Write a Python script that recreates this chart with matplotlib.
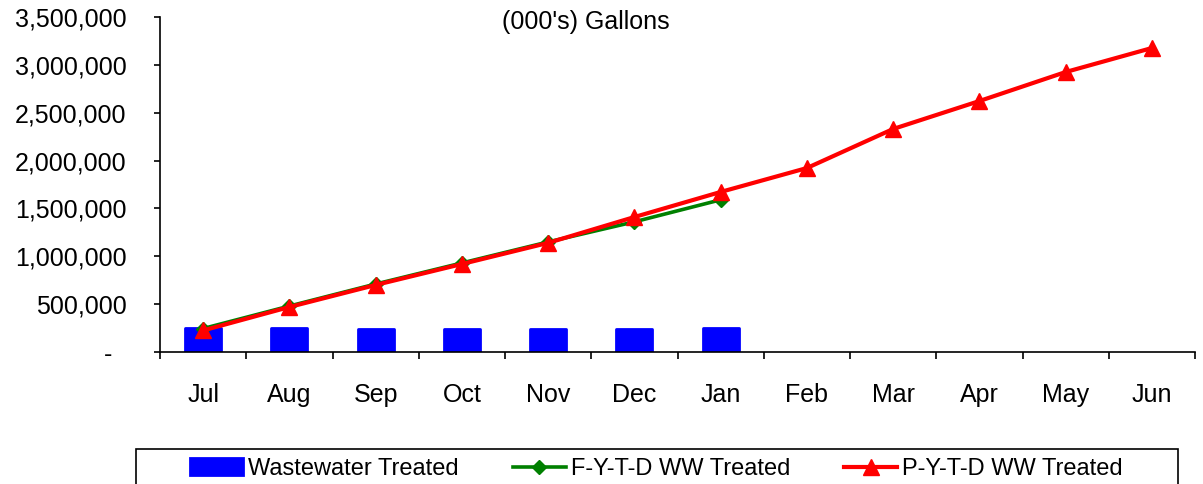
import matplotlib
matplotlib.use("Agg")
from matplotlib import pyplot as plt
from matplotlib.patches import Rectangle
from matplotlib.ticker import FuncFormatter

plt.rcParams['font.family'] = ['Liberation Sans', 'DejaVu Sans']

# data, (000's) gallons
months = ['Jul', 'Aug', 'Sep', 'Oct', 'Nov', 'Dec', 'Jan', 'Feb', 'Mar', 'Apr', 'May', 'Jun']
ww_treated = [255000, 255000, 237000, 237000, 237000, 237000, 255000]
fytd_treated = [245000, 480000, 710000, 930000, 1150000, 1360000, 1590000]
pytd_treated = [225000, 470000, 700000, 919000, 1140000, 1410000, 1672000,
                1922000, 2330000, 2622000, 2925000, 3176000]

fig = plt.figure(figsize=(12.03, 4.84), dpi=100)
ax = fig.add_axes([160 / 1203, 1 - 352 / 484, 1035 / 1203, 335 / 484])

x_ww = list(range(len(ww_treated)))
x_f = list(range(len(fytd_treated)))
x_p = list(range(len(pytd_treated)))

# bars (slightly rounded, like the original)
bars = ax.bar(x_ww, ww_treated, width=0.42, color='#0000ff', edgecolor='#0000ff',
              linewidth=2, joinstyle='round', label='Wastewater Treated', zorder=2)
l_f, = ax.plot(x_f, fytd_treated, color='#008000', lw=2.6, marker='D', markersize=7,
               label='F-Y-T-D WW Treated', zorder=3)
l_p, = ax.plot(x_p, pytd_treated, color='#ff0000', lw=3, marker='^', markersize=11,
               label='P-Y-T-D WW Treated', zorder=4)

ax.set_xlim(-0.5, 11.5)
ax.set_ylim(0, 3500000)
ax.set_yticks(range(0, 3500001, 500000))
ax.yaxis.set_major_formatter(FuncFormatter(lambda v, p: '-  ' if v == 0 else f'{int(v):,}'))
ax.set_xticks(x_p)
ax.set_xticklabels(months)
ax.set_xticks([i - 0.5 for i in range(13)], minor=True)

ax.tick_params(axis='x', which='major', length=0, pad=22, labelsize=18)
ax.tick_params(axis='x', which='minor', length=5, width=1.2, direction='out')
ax.tick_params(axis='y', length=4, width=1.2, pad=20, labelsize=18)

ax.spines['top'].set_visible(False)
ax.spines['right'].set_visible(False)
ax.spines['left'].set_linewidth(1.2)
ax.spines['bottom'].set_linewidth(1.2)

ax.text(0.4116, 0.985, "(000's) Gallons", transform=ax.transAxes, ha='center',
        va='center', fontsize=18)

# legend box runs past the bottom edge of the picture
fig.patches.append(Rectangle((136 / 1203, -0.05), 1042 / 1203, 1 - 449 / 484 + 0.05,
                             transform=fig.transFigure, fill=False,
                             edgecolor='black', linewidth=1.2))
fig.legend(handles=[bars, l_f, l_p], loc='center left', ncol=3,
           bbox_to_anchor=(190 / 1203, 1 - 469 / 484),
           frameon=False, fontsize=17, handlelength=2.25, handletextpad=0.2,
           columnspacing=2.3, borderaxespad=0, borderpad=0)

fig.savefig('out.png', dpi=100)
